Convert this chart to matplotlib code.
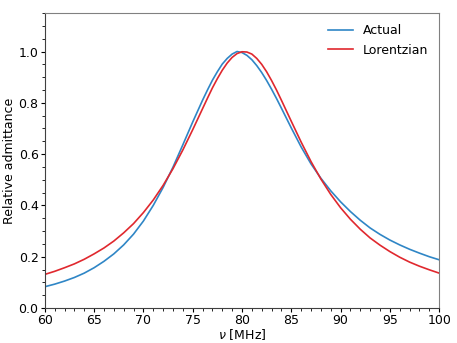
import numpy as np
import matplotlib.pyplot as plt
from matplotlib.ticker import MultipleLocator

# frequency grid [MHz], finer around the peak
freq = np.concatenate([np.arange(60, 76), np.arange(76, 84, 0.5), np.arange(84, 101)])

actual = [0.083, 0.093, 0.105, 0.119, 0.136, 0.157, 0.182, 0.211, 0.246, 0.288,
          0.339, 0.400, 0.470, 0.549, 0.636, 0.725,
          0.810, 0.850, 0.888, 0.921, 0.951, 0.973, 0.990, 1.000,
          0.996, 0.985, 0.968, 0.945, 0.918, 0.887, 0.853, 0.817,
          0.779, 0.702, 0.628, 0.562, 0.506, 0.457, 0.414, 0.376, 0.342,
          0.312, 0.287, 0.265, 0.246, 0.229, 0.214, 0.200, 0.188]

# lorentzian fit
lorentz = [0.131, 0.143, 0.157, 0.172, 0.190, 0.211, 0.234, 0.261, 0.293, 0.329,
           0.372, 0.421, 0.478, 0.543, 0.616, 0.695,
           0.777, 0.818, 0.858, 0.894, 0.927, 0.955, 0.977, 0.992,
           0.999, 0.998, 0.990, 0.973, 0.950, 0.921, 0.887, 0.850,
           0.810, 0.728, 0.647, 0.571, 0.503, 0.443, 0.391, 0.346, 0.307,
           0.273, 0.245, 0.220, 0.198, 0.179, 0.163, 0.149, 0.136]

fig = plt.figure(figsize=(4.57, 3.43), dpi=100)
ax = fig.add_axes([0.098, 0.102, 0.863, 0.860])

ax.plot(freq, actual, color='#2f86c6', linewidth=1.2, label='Actual')
ax.plot(freq, lorentz, color='#e0282e', linewidth=1.2, label='Lorentzian')

ax.set_xlim(60, 100)
ax.set_ylim(0, 1.15)
ax.xaxis.set_major_locator(MultipleLocator(5))
ax.xaxis.set_minor_locator(MultipleLocator(1))
ax.yaxis.set_major_locator(MultipleLocator(0.2))
ax.yaxis.set_minor_locator(MultipleLocator(0.05))
ax.tick_params(which='both', labelsize=9)
ax.tick_params(which='major', length=3, pad=1.5)
ax.tick_params(which='minor', length=2)

for s in ax.spines.values():
    s.set_color('#808080')
ax.spines['left'].set_color('#404040')
ax.spines['bottom'].set_color('#404040')

ax.set_xlabel(r'$\nu$ [MHz]', fontsize=9, labelpad=0)
ax.set_ylabel('Relative admittance', fontsize=9, labelpad=2)

ax.legend(loc='upper right', frameon=False, fontsize=9)

fig.savefig('out.png', dpi=100)
